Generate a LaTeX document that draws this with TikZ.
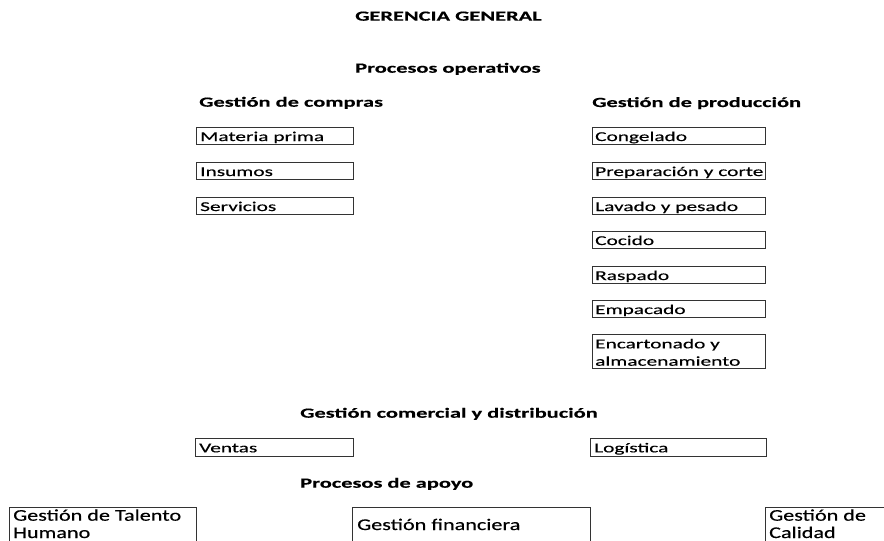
\documentclass[tikz,border=0pt]{standalone}
\usepackage{fontspec}
\setmainfont{Carlito}
\newfontfamily\bxfam[FakeStretch=1.58,FakeBold=0.4]{Carlito}
\newfontfamily\hdfam[FakeStretch=1.6,FakeBold=0.3]{Carlito}
\newfontfamily\btfam[FakeStretch=1.36,FakeBold=0.4]{Carlito}
\newcommand\bxfont{\bxfam\fontsize{13.5}{17.4}\selectfont}
\newcommand\hdfont{\hdfam\bfseries\fontsize{14}{17}\selectfont}
\newcommand\btfont{\btfam\fontsize{16.3}{17.3}\selectfont}
\tikzset{
  box/.style={draw=black!80, line width=1pt, anchor=north west, inner sep=0pt, minimum height=17pt},
  lbl/.style={anchor=base west, inner sep=0pt, font=\bxfont, text=black, align=left},
  btlbl/.style={anchor=base west, inner sep=0pt, font=\btfont, text=black, align=left},
  head/.style={anchor=base west, inner sep=0pt, font=\hdfont, text=black},
}
\begin{document}
\begin{tikzpicture}[x=1pt, y=-1pt]
\clip (0,0) rectangle (884,541);
\fill[white] (0,0) rectangle (884,541);
% headings
\node[head] (hGer) at (355,20.7) {GERENCIA GENERAL};
\node[head] (hOp) at (355,72.7) {Procesos operativos};
\node[head] (hCom) at (199,106.7) {Gestión de compras};
\node[head] (hProd) at (592,107) {Gestión de producción};
\node[head] (hComer) at (300,417.7) {Gestión comercial y distribución};
\node[head] (hApo) at (300,487.7) {Procesos de apoyo};
% compras
\node[box, minimum width=157pt] (bMat) at (195.5,127) {};
\node[box, minimum width=157pt] (bIns) at (195.5,162) {};
\node[box, minimum width=157pt] (bSer) at (195.5,197) {};
\node[lbl] (tMat) at ([shift={(4.5,14)}]bMat.north west) {Materia prima};
\node[lbl] (tIns) at ([shift={(4.5,14)}]bIns.north west) {Insumos};
\node[lbl] (tSer) at ([shift={(4.5,14)}]bSer.north west) {Servicios};
% produccion
\node[box, minimum width=173pt] (bCon) at (592,127) {};
\node[box, minimum width=173pt] (bPre) at (592,162) {};
\node[box, minimum width=173pt] (bLav) at (592,197) {};
\node[box, minimum width=173pt] (bCoc) at (592,231) {};
\node[box, minimum width=173pt] (bRas) at (592,266) {};
\node[box, minimum width=173pt] (bEmp) at (592,300) {};
\node[box, minimum width=173pt, minimum height=34pt] (bEnc) at (592,334) {};
\node[lbl] (tCon) at ([shift={(3,14)}]bCon.north west) {Congelado};
\node[lbl] (tPre) at ([shift={(3,14)}]bPre.north west) {Preparación y corte};
\node[lbl] (tLav) at ([shift={(3,14)}]bLav.north west) {Lavado y pesado};
\node[lbl] (tCoc) at ([shift={(3,14)}]bCoc.north west) {Cocido};
\node[lbl] (tRas) at ([shift={(3,14)}]bRas.north west) {Raspado};
\node[lbl] (tEmp) at ([shift={(3,14)}]bEmp.north west) {Empacado};
\node[lbl] (tEnc) at ([shift={(3,31.7)}]bEnc.north west) {Encartonado y\\almacenamiento};
% comercial
\node[box, minimum width=158pt, minimum height=18pt] (bVen) at (195,438) {};
\node[box, minimum width=176pt, minimum height=18pt] (bLog) at (590,438) {};
\node[lbl] (tVen) at ([shift={(4,14.3)}]bVen.north west) {Ventas};
\node[lbl] (tLog) at ([shift={(4,14.3)}]bLog.north west) {Logística};
% apoyo
\node[box, minimum width=187pt, minimum height=45pt] (bTal) at (9,507) {};
\node[box, minimum width=238pt, minimum height=45pt] (bFin) at (352,507) {};
\node[box, minimum width=130pt, minimum height=45pt] (bCal) at (765,507) {};
\node[btlbl] (tTal) at ([shift={(4,31)}]bTal.north west) {Gestión de Talento\\Humano};
\node[btlbl] (tFin) at ([shift={(5,23)}]bFin.north west) {Gestión financiera};
\node[btlbl] (tCal) at ([shift={(4,31)}]bCal.north west) {Gestión de\\Calidad};
\end{tikzpicture}
\end{document}
